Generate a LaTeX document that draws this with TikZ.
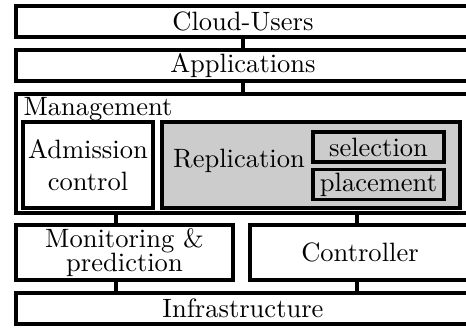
\documentclass[tikz,border=0pt]{standalone}
\begin{document}
\begin{tikzpicture}
      [x=0.377pt,y=-0.377pt,
       layer/.style={draw,line width=1.25pt,rectangle,inner sep=0pt,align=center},
       link/.style={line width=1.25pt}]
      \useasboundingbox (0,0) rectangle (466,331);
      \node[layer,minimum width=454*0.377pt,minimum height=31*0.377pt] (cloud) at (243,21.5) {Cloud-Users};
      \node[layer,minimum width=454*0.377pt,minimum height=31*0.377pt] (apps) at (243,65.5) {Applications};
      \node[layer,minimum width=454*0.377pt,minimum height=119*0.377pt] (mgmt) at (243,153.5) {};
      \node[anchor=north west,inner sep=0pt] (mgmtlabel) at (23,97) {Management};
      \node[layer,minimum width=130*0.377pt,minimum height=86*0.377pt] (adm) at (88,165) {Admission\\control};
      \node[layer,fill=gray!40,minimum width=298*0.377pt,minimum height=86*0.377pt] (repl) at (311,165) {};
      \node[inner sep=0pt] (repllabel) at (239,161) {Replication};
      \node[layer,minimum width=131*0.377pt,minimum height=30*0.377pt] (sel) at (378.5,147) {selection};
      \node[layer,minimum width=131*0.377pt,minimum height=30*0.377pt] (plc) at (378.5,184.5) {placement};
      \node[layer,minimum width=217*0.377pt,minimum height=55*0.377pt] (mon) at (124.5,252.5) {Monitoring \&\\[-3pt]prediction};
      \node[layer,minimum width=220*0.377pt,minimum height=55*0.377pt] (ctrl) at (360,252.5) {Controller};
      \node[layer,minimum width=454*0.377pt,minimum height=31*0.377pt] (infra) at (243,308.5) {Infrastructure};
      % connectors
      \coordinate (left) at (116,0);
      \coordinate (right) at (357,0);
      \draw[link] (cloud.south) -- (apps.north);
      \draw[link] (apps.south) -- (mgmt.north);
      \draw[link] (mgmt.south -| left) -- (mon.north -| left);
      \draw[link] (mgmt.south -| right) -- (ctrl.north -| right);
      \draw[link] (mon.south -| left) -- (infra.north -| left);
      \draw[link] (ctrl.south -| right) -- (infra.north -| right);
    \end{tikzpicture}
\end{document}
